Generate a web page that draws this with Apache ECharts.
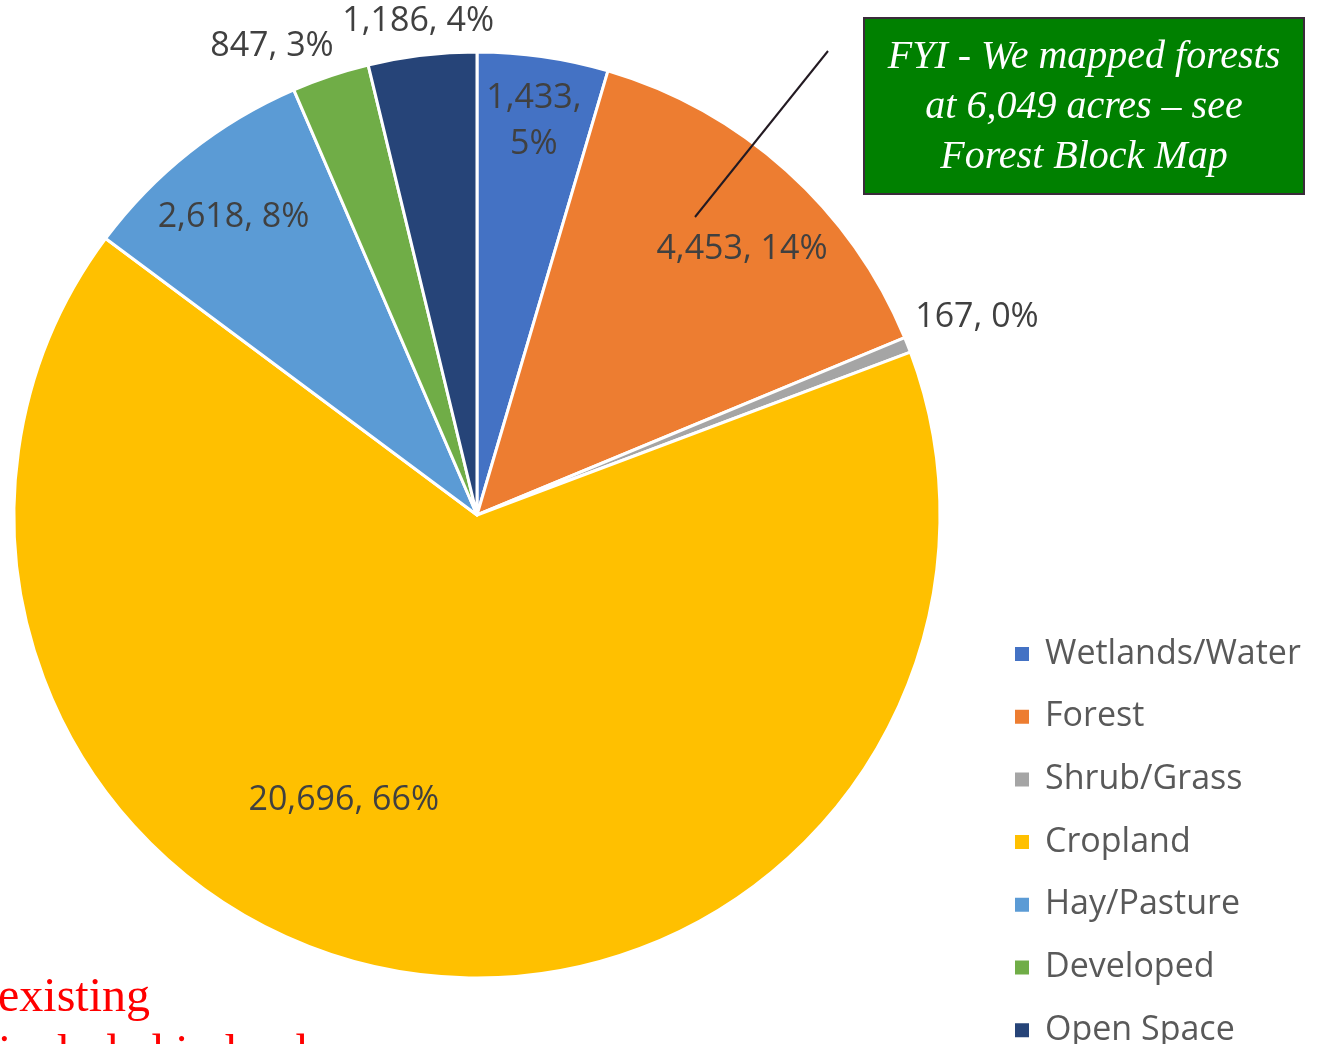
<!DOCTYPE html>
<html>
<head>
<meta charset="utf-8">
<script src="https://cdn.jsdelivr.net/npm/echarts@6/dist/echarts.min.js"></script>
<style>
html,body{margin:0;padding:0;background:#fff;}
#chart{width:1319px;height:1044px;}
</style>
</head>
<body>
<div id="chart"></div>
<script>
// ---- data ----
const categories = ['Wetlands/Water', 'Forest', 'Shrub/Grass', 'Cropland', 'Hay/Pasture', 'Developed', 'Open Space'];
const acres = [1433, 4453, 167, 20696, 2618, 847, 1186];
const colors = ['#4472C4', '#ED7D31', '#A5A5A5', '#FFC000', '#5B9BD5', '#70AD47', '#264478'];
const noteLines = ['FYI - We mapped forests', 'at 6,049 acres \u2013 see', 'Forest Block Map'];
const sideLines = ['existing', 'included in land'];

// ---- layout / style ----
const CX = 477, CY = 515, R = 463;
const labelPlacement = {
  'Wetlands/Water': { mode: 'in', k: 0.86, wrap: true },
  'Forest': { mode: 'in', k: 0.81, rot: 3 },
  'Shrub/Grass': { mode: 'out', pad: 12 },
  'Cropland': { mode: 'in', k: 0.68, rot: 17 },
  'Hay/Pasture': { mode: 'in', k: 0.83, rot: -1 },
  'Developed': { mode: 'out', pad: 12, dx: -47, dy: 5 },
  'Open Space': { mode: 'out', pad: 11 }
};

const total = acres.reduce((a, b) => a + b, 0);
function midAngleRad(i) {
  let cum = 0;
  for (let j = 0; j < i; j++) cum += acres[j];
  return (cum + acres[i] / 2) / total * 2 * Math.PI; // clockwise from 12 o'clock
}

const chart = echarts.init(document.getElementById('chart'), null, { renderer: 'canvas' });

const option = {
  animation: false,
  backgroundColor: '#fff',
  color: colors,
  legend: {
    data: categories,
    orient: 'vertical',
    left: 1013,
    top: 637,
    height: 600,
    padding: 0,
    icon: 'rect',
    itemWidth: 16,
    itemHeight: 16,
    itemGap: 28.7,
    selectedMode: false,
    textStyle: {
      fontFamily: 'Open Sans',
      fontSize: 34,
      color: '#595959',
      padding: [0, 0, 0, 10]
    }
  },
  series: [{
    type: 'pie',
    center: [CX, CY],
    radius: [0, R],
    startAngle: 90,
    clockwise: true,
    percentPrecision: 0,
    avoidLabelOverlap: false,
    itemStyle: { borderColor: '#ffffff', borderWidth: 3 },
    emphasis: { disabled: true },
    label: {
      show: true,
      position: 'inside',
      fontFamily: 'Open Sans',
      fontSize: 34,
      lineHeight: 46,
      color: '#404040',
      formatter: function (p) {
        const v = p.value.toLocaleString('en-US');
        const sep = labelPlacement[p.name].wrap ? ',\n' : ', ';
        return v + sep + p.percent + '%';
      }
    },
    labelLine: { show: false },
    labelLayout: function (params) {
      const i = params.dataIndex;
      const cfg = labelPlacement[categories[i]];
      const lr = params.labelRect;
      const a = midAngleRad(i) + (cfg.rot ? cfg.rot * Math.PI / 180 : 0);
      const ux = Math.sin(a), uy = -Math.cos(a);
      let x, y;
      if (cfg.mode === 'in') {
        x = CX + ux * R * cfg.k;
        y = CY + uy * R * cfg.k;
      } else {
        const hw = lr.width / 2, hh = lr.height / 2;
        const t = Math.min(Math.abs(ux) > 1e-6 ? hw / Math.abs(ux) : 1e9,
                           Math.abs(uy) > 1e-6 ? hh / Math.abs(uy) : 1e9);
        const dist = R + cfg.pad + t;
        x = CX + ux * dist + (cfg.dx || 0);
        y = CY + uy * dist + (cfg.dy || 0);
      }
      return { x: x, y: y, align: 'center', verticalAlign: 'middle' };
    },
    data: categories.map((name, i) => ({ name: name, value: acres[i] }))
  }],
  graphic: [
    {
      type: 'line',
      shape: { x1: 828, y1: 51, x2: 695, y2: 217 },
      style: { stroke: '#231a22', lineWidth: 2 },
      z: 100
    },
    {
      type: 'rect',
      shape: { x: 864, y: 18, width: 440, height: 176 },
      style: { fill: '#008000', stroke: '#3a2b3a', lineWidth: 2 },
      z: 100
    },
    {
      type: 'text',
      x: 1084,
      y: 107,
      style: {
        text: noteLines.join('\n'),
        fill: '#ffffff',
        font: 'italic 40px "Liberation Serif"',
        lineHeight: 50,
        align: 'center',
        verticalAlign: 'middle'
      },
      z: 101
    },
    {
      type: 'text',
      x: -2,
      y: 970,
      style: {
        text: sideLines.join('\n'),
        fill: '#ff0000',
        font: '48px "Liberation Serif"',
        lineHeight: 57,
        align: 'left',
        verticalAlign: 'top'
      },
      z: 101
    }
  ]
};

chart.setOption(option);
</script>
</body>
</html>
